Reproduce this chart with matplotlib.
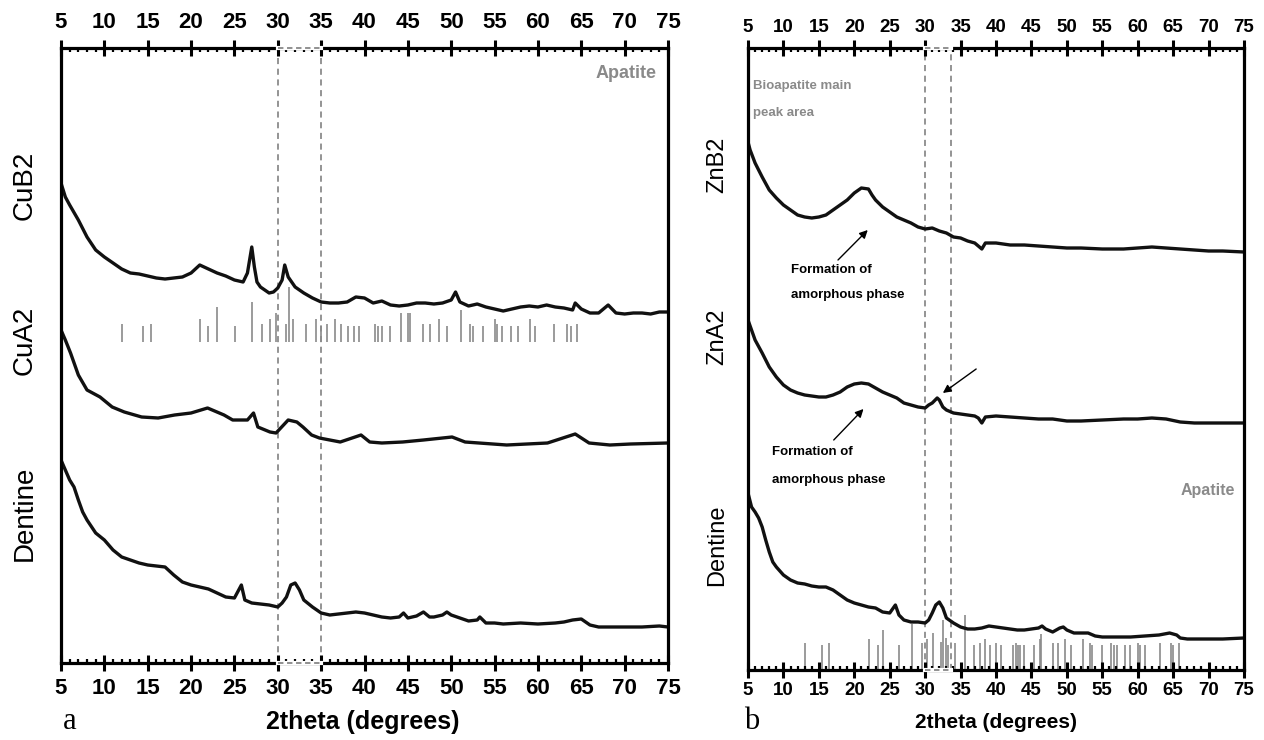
import matplotlib
matplotlib.use("Agg")
import matplotlib.pyplot as plt
from matplotlib.ticker import MultipleLocator

plt.rcParams['font.family'] = ['Liberation Sans', 'DejaVu Sans']

# ---- panel a (Cu samples), intensity in arbitrary units ----
cub2_x = [5, 5.5, 6, 7, 8, 9, 10, 11, 12, 13, 14, 15, 16, 17, 18, 19, 20, 21, 21.5, 22,
          23, 24, 25, 26, 26.5, 27, 27.3, 27.6, 28, 29, 29.5, 30, 30.5, 30.8, 31.2, 31.6, 32, 33, 34, 35,
          36, 37, 38, 39, 40, 41, 42, 43, 44, 45, 46, 47, 48, 49, 50, 50.5, 51, 52, 53, 54,
          55, 56, 57, 58, 59, 60, 61, 62, 63, 64, 64.3, 65, 66, 67, 68.1, 69, 70, 71, 72, 73, 74, 75]
cub2_y = [480, 466, 458, 443, 426, 413, 406, 400, 394, 390, 389, 387, 385, 384, 385, 386, 390, 398, 396, 394,
          390, 387, 383, 381, 390, 416, 396, 381, 376, 370, 371, 375, 383, 398, 386, 381, 376, 370, 365, 361,
          360, 360, 361, 366, 365, 360, 362, 358, 357, 358, 360, 360, 359, 360, 363, 371, 361, 357, 359, 356,
          354, 352, 354, 356, 357, 356, 358, 356, 355, 353, 360, 354, 350, 350, 358, 350, 349, 350, 350, 349, 351, 351]

cua2_x = [5, 5.5, 6.1, 7, 8, 9.5, 10.9, 12.3, 14.3, 16.2, 18.1, 20, 21.9, 23.8, 24.8, 26.5, 27.2, 27.7,
          29.1, 29.8, 31.2, 32.2, 32.9, 33.9, 34.8, 37.2, 39.6, 40.6, 42, 44.4, 46.8, 50.1, 51.6, 56.4,
          61.1, 64.3, 65.9, 68.3, 70.7, 75]
cua2_y = [333, 323, 310, 288, 273, 266, 256, 251, 246, 245, 248, 250, 255, 248, 243, 243, 250, 236,
          231, 230, 243, 241, 236, 228, 225, 221, 228, 221, 220, 221, 223, 226, 221, 218,
          220, 229, 220, 218, 219, 220]

dentA_x = [5, 5.5, 6, 6.5, 7, 7.5, 8, 9, 10, 11, 12, 13, 14, 15, 16, 17, 18, 19, 20, 21, 22, 23, 24, 25,
           25.8, 26.2, 27, 28, 29, 30, 30.5, 31, 31.5, 32, 32.5, 33, 34, 35, 36, 37, 38, 39, 40, 41, 42,
           43, 44, 44.5, 45, 46, 46.8, 47.5, 48, 49, 49.5, 50, 51, 52, 53, 53.3, 54, 55, 56, 58, 60, 62,
           63, 64, 65, 66, 67, 68, 70, 72, 74, 75]
dentA_y = [203, 193, 183, 176, 163, 151, 143, 130, 123, 113, 106, 103, 100, 98, 97, 96, 88, 81, 78, 76, 74, 70, 66, 65,
           78, 63, 60, 59, 58, 56, 60, 66, 78, 80, 73, 63, 56, 50, 48, 49, 50, 51, 50, 48, 46,
           45, 46, 50, 45, 47, 51, 46, 46, 48, 51, 48, 45, 42, 43, 46, 40, 40, 39, 40, 39, 40,
           41, 43, 44, 38, 36, 36, 36, 36, 37, 36]

apatite_a_pos = [12.0, 14.4, 15.4, 21.0, 22.0, 23.0, 25.1, 27.0, 28.2, 29.1, 29.8, 31.0, 31.3, 31.7,
                 33.2, 34.4, 35.0, 35.7, 36.6, 37.3, 38.1, 38.8, 39.4, 41.2, 41.5, 42.0, 42.9, 44.2,
                 45.0, 45.2, 46.7, 47.6, 48.6, 49.5, 51.1, 52.2, 52.5, 53.7, 55.0, 55.3, 55.8, 56.9,
                 57.7, 59.1, 59.7, 61.9, 63.4, 63.8, 64.5]
apatite_a_h = [18, 16, 18, 23, 16, 35, 16, 40, 18, 23, 29, 18, 55, 23,
               18, 23, 16, 18, 23, 18, 16, 16, 16, 18, 16, 16, 16, 29,
               29, 29, 18, 18, 23, 16, 32, 18, 16, 16, 23, 18, 16, 16,
               16, 23, 16, 18, 18, 16, 18]
apatite_a_base = 321

# ---- panel b (Zn samples) ----
znb2_x = [5, 5.3, 6, 7, 8, 9, 10, 11, 12, 13, 14, 15, 16, 17, 18, 19, 20, 21, 22, 22.5, 23, 24, 25,
          26, 27, 28, 29, 30, 31, 32, 33, 34, 35, 36, 37, 38, 38.5, 40, 42, 44, 46, 48, 50, 52, 55,
          58, 60, 62, 64, 66, 68, 70, 72, 75]
znb2_y = [528, 520, 507, 493, 480, 472, 465, 460, 455, 453, 452, 453, 455, 460, 465, 470, 477, 482, 481, 475, 470, 463, 458,
          453, 450, 447, 443, 441, 442, 439, 437, 433, 432, 429, 427, 421, 427, 427, 425, 425, 424, 423, 422, 422, 421,
          421, 422, 423, 422, 421, 420, 419, 419, 418]

zna2_x = [5, 5.5, 6, 7, 8, 9, 10, 11, 12, 13, 14, 15, 16, 17, 18, 19, 20, 21, 22, 23, 24, 25, 26, 27,
          28, 29, 30, 30.5, 31, 31.7, 32, 32.5, 33, 34, 35, 36, 37, 37.5, 38, 38.5, 40, 42, 44, 46, 48,
          50, 52, 55, 58, 60, 62, 64, 66, 68, 70, 72, 75]
zna2_y = [350, 340, 330, 317, 303, 293, 285, 280, 277, 275, 274, 273, 273, 275, 278, 283, 286, 287, 286, 282, 278, 275, 272, 267,
          265, 263, 262, 265, 267, 272, 270, 263, 260, 257, 256, 255, 254, 252, 247, 253, 254, 253, 252, 251, 251,
          249, 249, 250, 251, 251, 252, 251, 248, 247, 247, 247, 247]

dentB_x = [5, 5.5, 6, 6.5, 7, 7.5, 8, 8.5, 9, 10, 11, 12, 13, 14, 15, 16, 17, 18, 19, 20, 21, 22, 23, 24,
           25, 25.8, 26.3, 27, 28, 29, 30, 30.5, 31, 31.5, 32, 32.5, 33, 34, 35, 36, 37, 38, 39, 40, 41,
           42, 43, 44, 45, 46, 46.5, 47, 48, 49, 49.5, 50, 51, 52, 53, 54, 55, 57, 59, 61, 63, 64.5,
           65.5, 66, 67, 70, 72, 75]
dentB_y = [177, 163, 158, 152, 143, 130, 118, 108, 103, 95, 90, 87, 86, 84, 83, 83, 80, 75, 70, 67, 65, 63, 62, 58,
           57, 65, 55, 50, 48, 48, 47, 50, 57, 65, 68, 62, 52, 47, 43, 41, 41, 42, 44, 43, 42,
           41, 40, 40, 41, 42, 44, 41, 38, 42, 43, 40, 37, 37, 37, 34, 33, 33, 33, 34, 35, 37,
           35, 32, 31, 31, 31, 32]

apatite_b_pos = [13.1, 15.5, 16.5, 22.1, 23.3, 24.1, 26.3, 28.1, 29.5, 30.2, 31.1, 32.2, 32.5, 32.9,
                 33.2, 34.2, 35.6, 36.9, 37.8, 38.5, 39.2, 40.0, 40.7, 42.4, 42.8, 43.1, 43.4, 44.0,
                 45.4, 46.2, 46.4, 48.0, 48.7, 49.8, 50.6, 52.3, 53.3, 53.5, 54.9, 56.2, 56.7, 57.1,
                 58.2, 58.9, 60.1, 60.3, 61.0, 63.1, 64.7, 65.0, 65.8]
apatite_b_h = [27, 25, 27, 31, 25, 40, 25, 46, 27, 31, 37, 28, 50, 32,
               25, 27, 55, 25, 27, 31, 25, 27, 25, 25, 27, 25, 25, 25,
               25, 31, 36, 27, 27, 31, 25, 31, 27, 25, 25, 27, 25, 25,
               25, 25, 27, 25, 25, 27, 27, 25, 27]

tick_pos = list(range(5, 80, 5))
tick_lab = [str(t) for t in tick_pos]

gray = '#8a8a8a'
W, H = 1264, 740

fig = plt.figure(figsize=(W / 100, H / 100), dpi=100)
axL = fig.add_axes([61 / W, 1 - 663 / H, (668 - 61) / W, (663 - 48) / H])
axR = fig.add_axes([748 / W, 1 - 670 / H, (1244 - 748) / W, (670 - 48) / H])


def style_axis(ax, ymax, fs, pad):
    ax.set_xlim(5, 75)
    ax.set_ylim(0, ymax)
    ax.set_yticks([])
    ax.set_xticks(tick_pos)
    ax.set_xticklabels(tick_lab, fontweight='bold', fontsize=fs)
    ax.xaxis.set_minor_locator(MultipleLocator(1))
    ax.tick_params(axis='x', which='major', direction='inout', length=11, width=2.2,
                   top=True, bottom=True, labeltop=True, labelbottom=True, pad=pad)
    ax.tick_params(axis='x', which='minor', direction='in', length=2.8, width=1.6,
                   top=True, bottom=True)
    for s in ax.spines.values():
        s.set_linewidth(2.3)


def dashed_box(ax, x0, x1, ymax):
    for xv in (x0, x1):
        ax.axvline(xv, color='#777777', lw=1.1, ls=(0, (4, 3)), zorder=1)
    for yv in (0, ymax):
        ax.plot([x0, x1], [yv, yv], color='white', lw=3, clip_on=False, zorder=3)
        ax.plot([x0, x1], [yv, yv], color='#888888', lw=1.3, ls=(0, (3, 2)), clip_on=False, zorder=4)


# panel a
style_axis(axL, 615, 16, 5)
dashed_box(axL, 30, 35, 615)
axL.vlines(apatite_a_pos, apatite_a_base, [apatite_a_base + h for h in apatite_a_h],
           color=gray, lw=1.2, zorder=1)
for xs, ys in [(cub2_x, cub2_y), (cua2_x, cua2_y), (dentA_x, dentA_y)]:
    axL.plot(xs, ys, color='#111111', lw=2.4, zorder=2)
axL.text(73.7, 590, 'Apatite', color=gray, fontsize=13, fontweight='bold', ha='right', va='center')

# panel b
style_axis(axR, 622, 13.5, 3)
dashed_box(axR, 30, 33.6, 622)
axR.vlines(apatite_b_pos, 0, apatite_b_h, color=gray, lw=1.2, zorder=1)
for xs, ys in [(znb2_x, znb2_y), (zna2_x, zna2_y), (dentB_x, dentB_y)]:
    axR.plot(xs, ys, color='#111111', lw=2.4, zorder=2)
axR.text(5.7, 584, 'Bioapatite main', color=gray, fontsize=9.5, fontweight='bold', va='center')
axR.text(5.7, 557, 'peak area', color=gray, fontsize=9.5, fontweight='bold', va='center')
axR.text(73.7, 180, 'Apatite', color=gray, fontsize=11.5, fontweight='bold', ha='right', va='center')

arrow = dict(arrowstyle='-|>', color='black', lw=1.0, mutation_scale=12, shrinkA=0, shrinkB=0)
axR.annotate('', xy=(21.9, 440), xytext=(17.7, 410), arrowprops=arrow)
axR.text(11.1, 400, 'Formation of', fontsize=9.5, fontweight='bold', va='center')
axR.text(11.1, 375, 'amorphous phase', fontsize=9.5, fontweight='bold', va='center')
axR.annotate('', xy=(21.3, 261), xytext=(17.1, 230), arrowprops=arrow)
axR.text(8.4, 218, 'Formation of', fontsize=9.5, fontweight='bold', va='center')
axR.text(8.4, 190, 'amorphous phase', fontsize=9.5, fontweight='bold', va='center')
axR.annotate('', xy=(32.5, 277), xytext=(37.2, 301), arrowprops=arrow)

# sample labels
for name, yp in [('CuB2', 185), ('CuA2', 340), ('Dentine', 513)]:
    fig.text(25 / W, 1 - yp / H, name, rotation=90, fontsize=20, ha='center', va='center')
for name, yp in [('ZnB2', 165), ('ZnA2', 337), ('Dentine', 545)]:
    fig.text(717 / W, 1 - yp / H, name, rotation=90, fontsize=17, ha='center', va='center')

fig.text(363 / W, 1 - 722 / H, '2theta (degrees)', fontsize=18, fontweight='bold', ha='center', va='center')
fig.text(996 / W, 1 - 723 / H, '2theta (degrees)', fontsize=15, fontweight='bold', ha='center', va='center')
fig.text(70 / W, 1 - 729 / H, 'a', family='Liberation Serif', fontsize=22, ha='center', va='baseline')
fig.text(752 / W, 1 - 729 / H, 'b', family='Liberation Serif', fontsize=22, ha='center', va='baseline')

fig.savefig('out.png', dpi=100)
